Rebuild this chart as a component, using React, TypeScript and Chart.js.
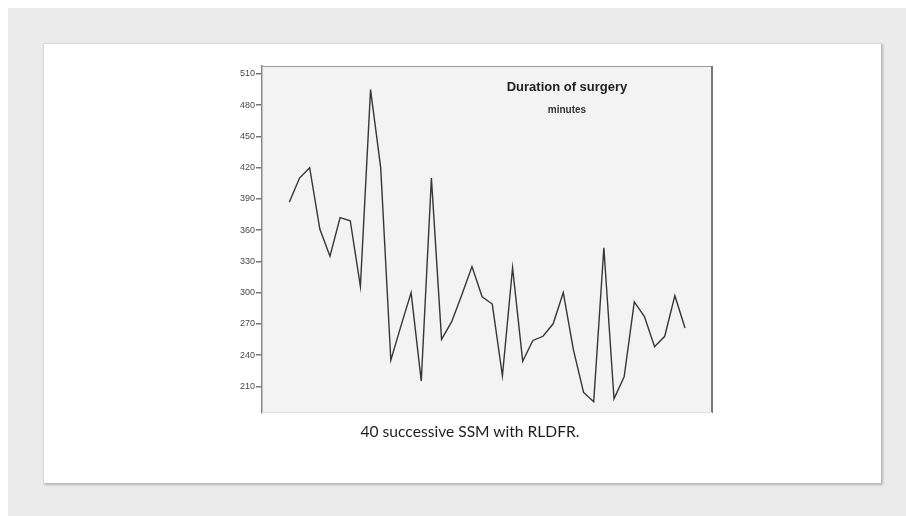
import React, { useEffect, useRef } from "react";
import { Chart, registerables } from "chart.js";

Chart.register(...registerables);

const runs: number[] = Array.from({ length: 40 }, (_, i) => i + 1);
const durations: number[] = [
  387, 410, 420, 361, 335, 372, 369, 306, 495, 420,
  235, 268, 300, 215, 410, 255, 272, 298, 325, 296,
  289, 220, 324, 234, 254, 258, 270, 300, 245, 204,
  195, 343, 198, 219, 291, 277, 248, 258, 297, 266,
];
const yTicks: number[] = [210, 240, 270, 300, 330, 360, 390, 420, 450, 480, 510];

const plotDecor = {
  id: "plotDecor",
  beforeDraw(chart: any) {
    const { ctx, chartArea: a } = chart;
    ctx.save();
    ctx.fillStyle = "#f3f3f3";
    ctx.fillRect(a.left, a.top, a.right - a.left, a.bottom - a.top);
    ctx.restore();
  },
  afterDraw(chart: any) {
    const { ctx, chartArea: a } = chart;
    ctx.save();
    ctx.strokeStyle = "#9a9a9a";
    ctx.lineWidth = 1;
    ctx.beginPath();
    ctx.moveTo(a.left, a.top + 0.5);
    ctx.lineTo(a.right, a.top + 0.5);
    ctx.stroke();
    ctx.strokeStyle = "#777";
    ctx.lineWidth = 2;
    ctx.beginPath();
    ctx.moveTo(a.right, a.top);
    ctx.lineTo(a.right, a.bottom);
    ctx.stroke();
    ctx.strokeStyle = "#e2e2e2";
    ctx.lineWidth = 1;
    ctx.beginPath();
    ctx.moveTo(a.left, a.bottom - 0.5);
    ctx.lineTo(a.right, a.bottom - 0.5);
    ctx.stroke();
    ctx.restore();
  },
};

export default function App() {
  const ref = useRef<HTMLCanvasElement | null>(null);
  useEffect(() => {
    if (!ref.current) return;
    const chart = new Chart(ref.current, {
      type: "line",
      data: {
        datasets: [
          {
            data: runs.map((r, i) => ({ x: r, y: durations[i] })),
            borderColor: "#363636",
            borderWidth: 1.4,
            pointRadius: 0,
            tension: 0,
            fill: false,
          },
        ],
      },
      options: {
        animation: false,
        responsive: false,
        devicePixelRatio: 1,
        layout: { padding: { left: 0, right: 10, top: 10, bottom: 13 } },
        plugins: { legend: { display: false }, tooltip: { enabled: false }, title: { display: false } },
        scales: {
          x: { type: "linear", min: -1.7, max: 42.66, display: false },
          y: {
            type: "linear",
            min: 184.3,
            max: 517.7,
            afterFit: (s: any) => {
              s.width = 40;
            },
            afterBuildTicks: (s: any) => {
              s.ticks = yTicks.map((v) => ({ value: v }));
            },
            grid: { drawOnChartArea: false, drawTicks: true, tickLength: 6, color: "#777", lineWidth: 1.5 },
            border: { display: true, color: "#8a8a8a", width: 1.5 },
            ticks: {
              padding: 1,
              color: "#4a4a4a",
              font: { family: "'Liberation Sans', Arial, sans-serif", size: 9 },
            },
          },
        },
      },
      plugins: [plotDecor],
    });
    return () => chart.destroy();
  }, []);

  return (
    <div>
      <div style={{ position: "fixed", left: 8, top: 8, right: 0, bottom: 0, background: "#ebebeb" }} />
      <div
        style={{
          position: "fixed",
          left: 44,
          top: 44,
          width: 837,
          height: 439,
          background: "#ffffff",
          boxShadow: "1px 1px 2px 1px rgba(0,0,0,0.22)",
        }}
      />
      <canvas
        ref={ref}
        width={500}
        height={370}
        style={{ position: "fixed", left: 222, top: 56, width: 500, height: 370 }}
      />
      <div
        style={{
          position: "fixed",
          left: 467,
          top: 78,
          width: 200,
          textAlign: "center",
          fontFamily: "'Liberation Sans', Arial, sans-serif",
          fontWeight: "bold",
          fontSize: 13,
          color: "#222",
          lineHeight: "18px",
        }}
      >
        Duration of surgery
      </div>
      <div
        style={{
          position: "fixed",
          left: 467,
          top: 103,
          width: 200,
          textAlign: "center",
          fontFamily: "'Liberation Sans', Arial, sans-serif",
          fontWeight: "bold",
          fontSize: 10,
          color: "#333",
          lineHeight: "14px",
        }}
      >
        minutes
      </div>
      <div
        style={{
          position: "fixed",
          left: 320,
          top: 420,
          width: 300,
          textAlign: "center",
          fontFamily: "Lato, 'Open Sans', sans-serif",
          fontSize: 15.6,
          color: "#1e1e1e",
          lineHeight: "22px",
        }}
      >
        40 successive SSM with RLDFR.
      </div>
    </div>
  );
}
